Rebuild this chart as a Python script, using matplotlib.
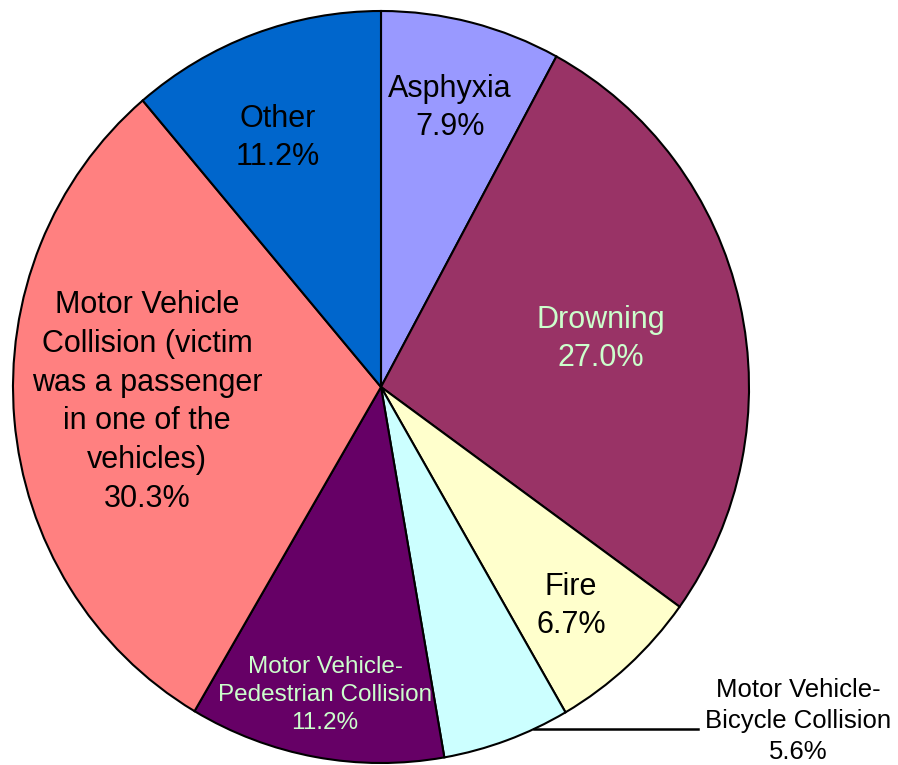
import numpy as np
import matplotlib
matplotlib.use("Agg")
import matplotlib.pyplot as plt

plt.rcParams['font.family'] = ['Liberation Sans', 'DejaVu Sans']

causes = ["Asphyxia", "Drowning", "Fire", "Motor Vehicle-\nBicycle Collision",
          "Motor Vehicle-\nPedestrian Collision",
          "Motor Vehicle\nCollision (victim\nwas a passenger\nin one of the\nvehicles)",
          "Other"]
shares = [7.9, 27.0, 6.7, 5.6, 11.2, 30.3, 11.2]
colors = ["#9999FF", "#993366", "#FFFFCC", "#CCFFFF", "#660066", "#FF8080", "#0066CC"]
text_colors = ["black", "#CCFFCC", "black", "black", "#CCFFCC", "black", "black"]
font_sizes = [22, 22, 22, 18.5, 17.5, 22, 22]
# label centres in pixels of the 898x765 image
label_px = [(450, 108), (601, 339), (571, 606), (798, 721), (325, 695), (147, 402), (278, 138)]

W, H = 898, 765
cx, cy, rx, ry = 381, 387, 368, 376

fig = plt.figure(figsize=(W / 100, H / 100), dpi=100)
ax = fig.add_axes([(cx - rx) / W, (H - cy - ry) / H, 2 * rx / W, 2 * ry / H])

wedges, _ = ax.pie(shares, colors=colors, startangle=90, counterclock=False,
                   wedgeprops=dict(edgecolor="black", linewidth=1.5))
ax.set_aspect('auto')
ax.set_xlim(-1, 1)
ax.set_ylim(-1, 1)
ax.axis('off')


def to_data(x, y):
    return (x - cx) / rx, (cy - y) / ry


for name, val, tc, fs, (x, y) in zip(causes, shares, text_colors, font_sizes, label_px):
    dx, dy = to_data(x, y)
    ax.text(dx, dy, f"{name}\n{val:.1f}%", ha="center", va="center",
            color=tc, fontsize=fs, linespacing=1.38, clip_on=False)

# leader line for the bicycle slice
ang = np.deg2rad(-65.4)
ex, ey = np.cos(ang), np.sin(ang)
end_x, _ = to_data(698, 0)
ax.plot([ex, end_x], [ey, ey], color="black", linewidth=1.8, clip_on=False)

fig.savefig("out.png", dpi=100)
